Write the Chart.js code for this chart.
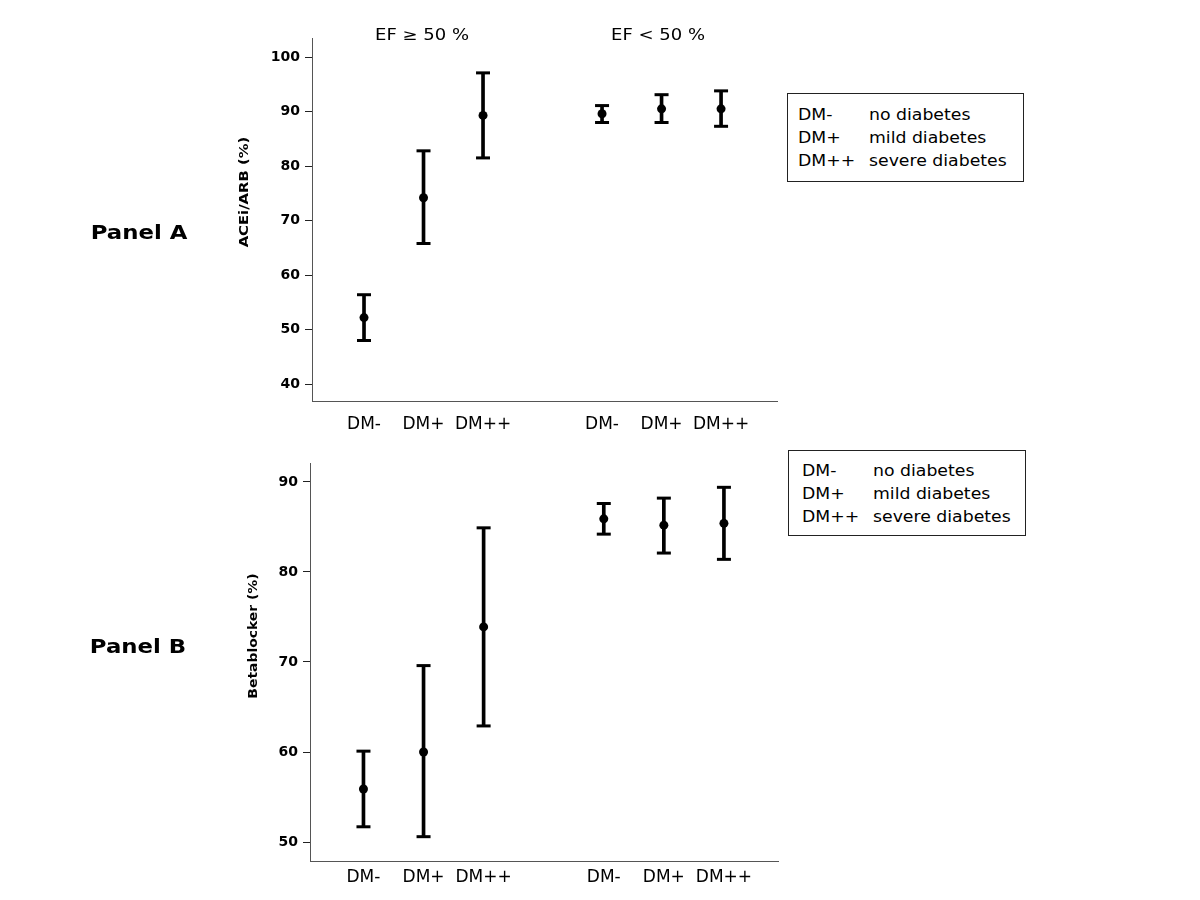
<!DOCTYPE html>
<html>
<head>
<meta charset="utf-8">
<script src="https://cdn.jsdelivr.net/npm/chart.js@4"></script>
<style>
  body { margin: 0; background: #fff; font-family: "DejaVu Sans", sans-serif; color: #000; }
  #page { position: relative; width: 1200px; height: 900px; overflow: hidden; }
  .box { position: absolute; }
  .txt { position: absolute; white-space: nowrap; }
  .c { transform: translate(-50%, -50%) scaleX(1.2); }
  .legend { position: absolute; border: 1px solid #222; background: #fff; }
  .legend div { position: absolute; font-size: 16px; white-space: nowrap; transform: translateY(-50%) scaleX(1.08); transform-origin: left center; }
</style>
</head>
<body>
<div id="page">
  <div class="box" style="left:0;top:0;width:1200px;height:440px"><canvas id="chartA"></canvas></div>
  <div class="box" style="left:0;top:440px;width:1200px;height:460px"><canvas id="chartB"></canvas></div>

  <div class="txt c" style="left:422px;top:35px;font-size:15px">EF ≥ 50 %</div>
  <div class="txt c" style="left:658px;top:35px;font-size:15px">EF &lt; 50 %</div>

  <div class="txt c" style="left:139px;top:232px;font-size:19px;font-weight:bold">Panel A</div>
  <div class="txt c" style="left:138px;top:646px;font-size:19px;font-weight:bold">Panel B</div>

  <div class="txt" style="left:243px;top:192px;font-size:13px;font-weight:bold;transform:translate(-50%,-50%) rotate(-90deg) scaleX(1.14)">ACEi/ARB (%)</div>
  <div class="txt" style="left:252px;top:636px;font-size:13px;font-weight:bold;transform:translate(-50%,-50%) rotate(-90deg) scaleX(1.07)">Betablocker (%)</div>

  <div class="legend" style="left:787px;top:93px;width:235px;height:87px">
    <div style="left:10px;top:20px">DM-</div><div style="left:81px;top:20px">no diabetes</div>
    <div style="left:10px;top:43px">DM+</div><div style="left:81px;top:43px">mild diabetes</div>
    <div style="left:10px;top:66px">DM++</div><div style="left:81px;top:66px">severe diabetes</div>
  </div>
  <div class="legend" style="left:788px;top:450px;width:236px;height:84px">
    <div style="left:13px;top:19px">DM-</div><div style="left:84px;top:19px">no diabetes</div>
    <div style="left:13px;top:42px">DM+</div><div style="left:84px;top:42px">mild diabetes</div>
    <div style="left:13px;top:65px">DM++</div><div style="left:84px;top:65px">severe diabetes</div>
  </div>
</div>

<script>
// grupos: EF >= 50 % (1-3) y EF < 50 % (5-7)
const groupLabels = ['DM-', 'DM+', 'DM++', 'DM-', 'DM+', 'DM++'];
const groupPos = [1, 2, 3, 5, 6, 7];

// Panel A: ACEi/ARB (%)
const aceMean = [52.2, 74.2, 89.3, 89.6, 90.5, 90.5];
const aceLow  = [48.0, 65.8, 81.5, 88.0, 88.0, 87.3];
const aceHigh = [56.4, 82.8, 97.1, 91.1, 93.1, 93.8];
const aceTicks = [40, 50, 60, 70, 80, 90, 100];

// Panel B: Betablocker (%)
const betaMean = [55.9, 60.0, 73.9, 85.9, 85.2, 85.4];
const betaLow  = [51.7, 50.6, 62.9, 84.2, 82.1, 81.4];
const betaHigh = [60.1, 69.6, 84.9, 87.6, 88.2, 89.4];
const betaTicks = [50, 60, 70, 80, 90];

function makeChart(id, mean, low, high, yTicks, yMin, yMax, opts) {
    const ctx = document.getElementById(id).getContext('2d');
    return new Chart(ctx, {
        type: 'scatter',
        data: {
            datasets: [
                {
                    // puntos (media)
                    data: groupPos.map((x, i) => ({ x: x, y: mean[i] })),
                    pointRadius: 4.5,
                    pointBackgroundColor: '#000',
                    pointBorderWidth: 0
                },
                {
                    // extremos de las barras de error
                    data: groupPos.map((x, i) => ({ x: x, y: low[i] }))
                        .concat(groupPos.map((x, i) => ({ x: x, y: high[i] }))),
                    pointStyle: 'line',
                    pointRadius: 7,
                    pointBorderWidth: 3,
                    pointBorderColor: '#000'
                },
                {
                    type: 'bar',
                    data: groupPos.map((x, i) => ({ x: x, y: [low[i], high[i]] })),
                    barThickness: 3,
                    backgroundColor: '#000',
                    borderWidth: 0
                }
            ]
        },
        options: {
            responsive: true,
            maintainAspectRatio: false,
            animation: false,
            events: [],
            layout: { padding: opts.padding },
            plugins: { legend: { display: false }, tooltip: { enabled: false } },
            scales: {
                x: {
                    type: 'linear',
                    offset: false,
                    min: opts.xMin,
                    max: opts.xMax,
                    afterBuildTicks: s => { s.ticks = groupPos.map(v => ({ value: v })); },
                    afterFit: s => { s.height = 39; },
                    ticks: {
                        padding: opts.xPad,
                        autoSkip: false,
                        maxRotation: 0,
                        color: '#000',
                        font: { family: 'DejaVu Sans', size: 17 },
                        callback: v => groupLabels[groupPos.indexOf(v)]
                    },
                    grid: { display: true, offset: false, drawOnChartArea: false, drawTicks: false },
                    border: { display: true, color: '#555', width: 1 }
                },
                y: {
                    min: yMin,
                    max: yMax,
                    afterBuildTicks: s => { s.ticks = yTicks.map(v => ({ value: v })); },
                    afterFit: s => { s.width = 70; },
                    ticks: {
                        padding: 5,
                        color: '#000',
                        font: { family: 'DejaVu Sans', size: 14, weight: 'bold' }
                    },
                    grid: { display: true, drawOnChartArea: false, drawTicks: true, tickLength: 7, color: '#222' },
                    border: { display: true, color: '#555', width: 1 }
                }
            }
        }
    });
}

makeChart('chartA', aceMean, aceLow, aceHigh, aceTicks, 36.9, 103.5,
    { padding: { left: 242, right: 423, top: 38, bottom: 0 }, xMin: 0.126, xMax: 7.94, xPad: 13 });
makeChart('chartB', betaMean, betaLow, betaHigh, betaTicks, 47.9, 92.1,
    { padding: { left: 240, right: 422, top: 23, bottom: 0 }, xMin: 0.11, xMax: 7.9, xPad: 6 });
</script>
</body>
</html>
